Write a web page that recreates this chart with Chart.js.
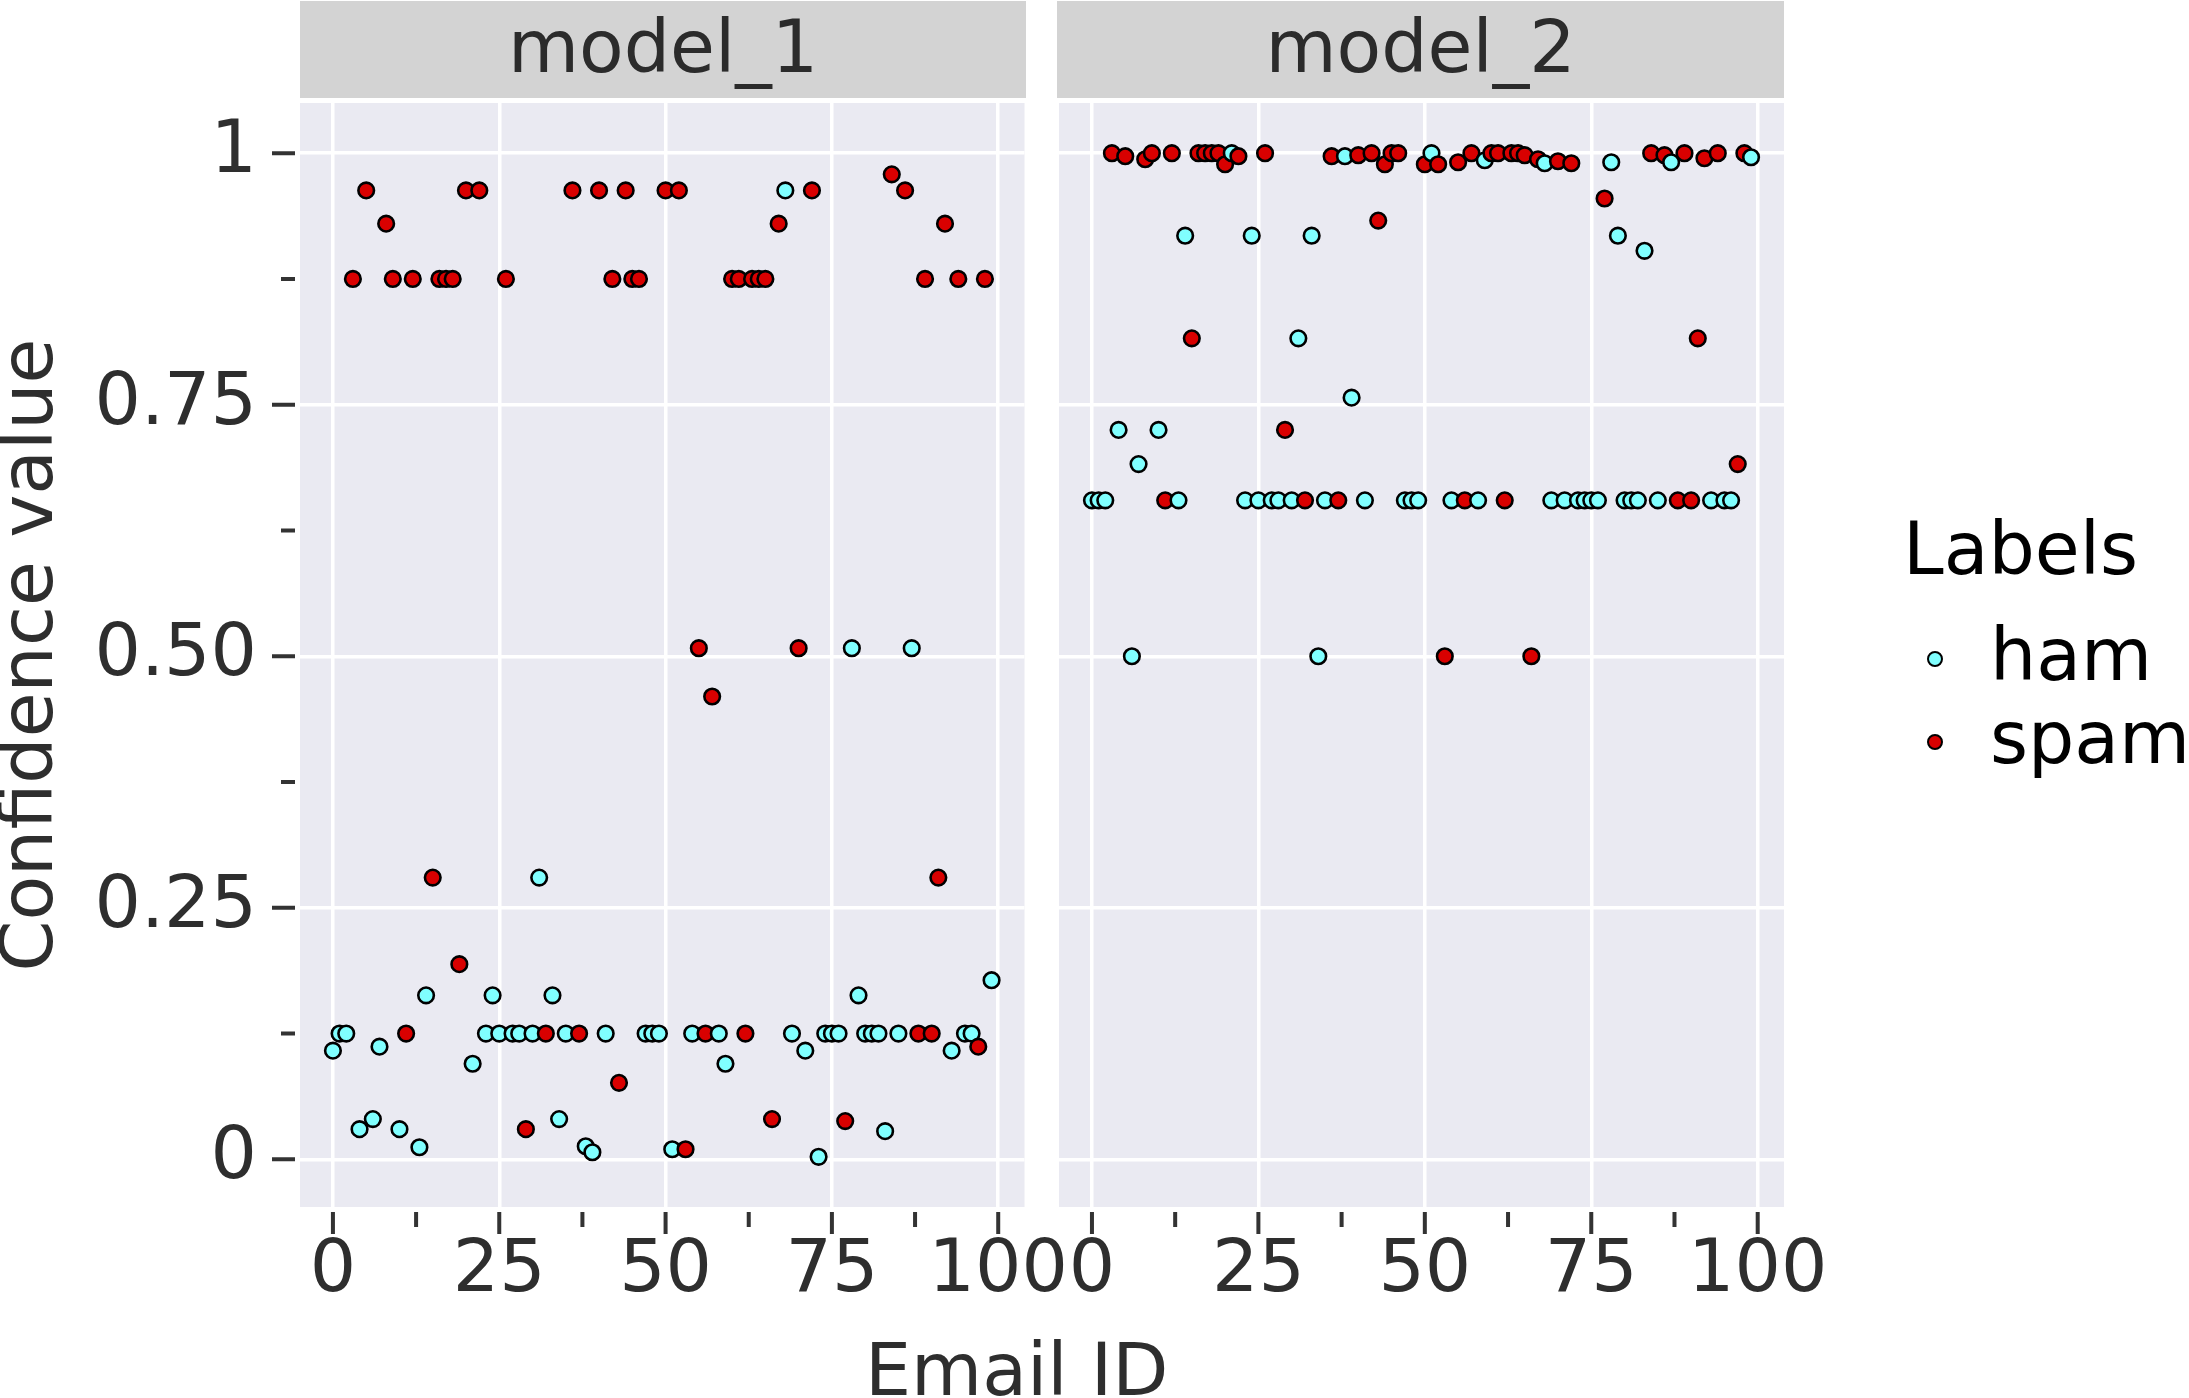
<!DOCTYPE html>
<html lang="en">

<head>
  <meta charset="UTF-8" />
  <title>Confidence value per email</title>
  <script src="https://cdn.jsdelivr.net/npm/chart.js"></script>
  <style>
    body {
      margin: 0;
      width: 2189px;
      height: 1398px;
      background: #ffffff;
      overflow: hidden;
      position: relative;
      font-family: 'DejaVu Sans', sans-serif;
    }

    canvas {
      position: absolute;
      top: 0;
    }

    .strip {
      position: absolute;
      top: 1px;
      height: 97px;
      background: #d3d3d3;
      color: #2b2b2b;
      font-size: 73px;
      text-align: center;
    }

    .strip span {
      display: block;
      line-height: 73px;
      padding-top: 9px;
    }

    .txt {
      position: absolute;
      font-size: 73px;
      line-height: 73px;
      white-space: nowrap;
    }

    .dot {
      position: absolute;
      width: 12px;
      height: 12px;
      border: 2.5px solid #000;
      border-radius: 50%;
    }
  </style>
</head>

<body>
  <canvas id="painel1" width="1100" height="1398" style="left:0px"></canvas>
  <canvas id="painel2" width="860" height="1398" style="left:1040px"></canvas>

  <div class="strip" style="left:300px; width:726px"><span id="strip1"></span></div>
  <div class="strip" style="left:1057px; width:727px"><span id="strip2"></span></div>

  <div class="txt" style="left:865px; top:1333px; color:#2e2e2e">Email ID</div>

  <div class="txt" style="left:1903px; top:512px; color:#000">Labels</div>
  <div class="dot" style="left:1927px; top:651px; background:#80ffff"></div>
  <div class="txt" style="left:1990px; top:618px; color:#000">ham</div>
  <div class="dot" style="left:1927px; top:734px; background:#d90000"></div>
  <div class="txt" style="left:1990px; top:701px; color:#000">spam</div>

  <script>
    // dados (um ponto por email, por modelo)
    const emailIds = [0, 1, 2, 3, 4, 5, 6, 7, 8, 9,
      10, 11, 12, 13, 14, 15, 16, 17, 18, 19,
      20, 21, 22, 23, 24, 25, 26, 27, 28, 29,
      30, 31, 32, 33, 34, 35, 36, 37, 38, 39,
      40, 41, 42, 43, 44, 45, 46, 47, 48, 49,
      50, 51, 52, 53, 54, 55, 56, 57, 58, 59,
      60, 61, 62, 63, 64, 65, 66, 67, 68, 69,
      70, 71, 72, 73, 74, 75, 76, 77, 78, 79,
      80, 81, 82, 83, 84, 85, 86, 87, 88, 89,
      90, 91, 92, 93, 94, 95, 96, 97, 98, 99];

    const emailLabels = ['ham', 'ham', 'ham', 'spam', 'ham', 'spam', 'ham', 'ham', 'spam', 'spam',
      'ham', 'spam', 'spam', 'ham', 'ham', 'spam', 'spam', 'spam', 'spam', 'spam',
      'spam', 'ham', 'spam', 'ham', 'ham', 'ham', 'spam', 'ham', 'ham', 'spam',
      'ham', 'ham', 'spam', 'ham', 'ham', 'ham', 'spam', 'spam', 'ham', 'ham',
      'spam', 'ham', 'spam', 'spam', 'spam', 'spam', 'spam', 'ham', 'ham', 'ham',
      'spam', 'ham', 'spam', 'spam', 'ham', 'spam', 'spam', 'spam', 'ham', 'ham',
      'spam', 'spam', 'spam', 'spam', 'spam', 'spam', 'spam', 'spam', 'ham', 'ham',
      'spam', 'ham', 'spam', 'ham', 'ham', 'ham', 'ham', 'spam', 'ham', 'ham',
      'ham', 'ham', 'ham', 'ham', 'spam', 'ham', 'spam', 'ham', 'spam', 'spam',
      'spam', 'spam', 'spam', 'ham', 'spam', 'ham', 'ham', 'spam', 'spam', 'ham'];

    const model1Conf = [0.108, 0.125, 0.125, 0.875, 0.03, 0.963, 0.04, 0.112, 0.93, 0.875,
      0.03, 0.125, 0.875, 0.012, 0.163, 0.28, 0.875, 0.875, 0.875, 0.194,
      0.963, 0.095, 0.963, 0.125, 0.163, 0.125, 0.875, 0.125, 0.125, 0.03,
      0.125, 0.28, 0.125, 0.163, 0.04, 0.125, 0.963, 0.125, 0.013, 0.007,
      0.963, 0.125, 0.875, 0.076, 0.963, 0.875, 0.875, 0.125, 0.125, 0.125,
      0.963, 0.01, 0.963, 0.01, 0.125, 0.508, 0.125, 0.46, 0.125, 0.095,
      0.875, 0.875, 0.125, 0.875, 0.875, 0.875, 0.04, 0.93, 0.963, 0.125,
      0.508, 0.108, 0.963, 0.0025, 0.125, 0.125, 0.125, 0.038, 0.508, 0.163,
      0.125, 0.125, 0.125, 0.028, 0.979, 0.125, 0.963, 0.508, 0.125, 0.875,
      0.125, 0.28, 0.93, 0.108, 0.875, 0.125, 0.125, 0.112, 0.875, 0.178];

    const model2Conf = [0.655, 0.655, 0.655, 1.0, 0.725, 0.997, 0.5, 0.691, 0.994, 1.0,
      0.725, 0.655, 1.0, 0.655, 0.918, 0.816, 1.0, 1.0, 1.0, 1.0,
      0.989, 1.0, 0.997, 0.655, 0.918, 0.655, 1.0, 0.655, 0.655, 0.725,
      0.655, 0.816, 0.655, 0.918, 0.5, 0.655, 0.997, 0.655, 0.997, 0.757,
      0.998, 0.655, 1.0, 0.933, 0.989, 1.0, 1.0, 0.655, 0.655, 0.655,
      0.989, 1.0, 0.989, 0.5, 0.655, 0.991, 0.655, 1.0, 0.655, 0.993,
      1.0, 1.0, 0.655, 1.0, 1.0, 0.998, 0.5, 0.994, 0.99, 0.655,
      0.992, 0.655, 0.99, 0.655, 0.655, 0.655, 0.655, 0.955, 0.991, 0.918,
      0.655, 0.655, 0.655, 0.903, 1.0, 0.655, 0.998, 0.991, 0.655, 1.0,
      0.655, 0.816, 0.995, 0.655, 1.0, 0.655, 0.655, 0.691, 1.0, 0.996];

    const panelNames = ['model_1', 'model_2'];

    const xMajorTicks = [0, 25, 50, 75, 100];
    const xMinorTicks = [12.5, 37.5, 62.5, 87.5];
    const yMajorTicks = [0, 0.25, 0.5, 0.75, 1];
    const yTickLabels = ['0', '0.25', '0.50', '0.75', '1'];
    const yMinorTicks = [0.125, 0.375, 0.625, 0.875];

    const corLabel = { ham: '#80ffff', spam: '#d90000' };
    const corTexto = '#2e2e2e';
    const fonte = 'DejaVu Sans';

    document.getElementById('strip1').textContent = panelNames[0];
    document.getElementById('strip2').textContent = panelNames[1];

    // fundo do painel e tracinhos dos eixos (maiores e menores)
    const painelPlugin = {
      id: 'painel',
      beforeDraw(chart) {
        const a = chart.chartArea;
        const c = chart.ctx;
        c.save();
        c.fillStyle = '#eaeaf2';
        c.fillRect(a.left, a.top, a.right - a.left, a.bottom - a.top);
        c.restore();
      },
      afterDraw(chart, args, opts) {
        const a = chart.chartArea;
        const c = chart.ctx;
        const xs = chart.scales.x;
        const ys = chart.scales.y;
        c.save();
        c.strokeStyle = '#333333';
        c.lineWidth = 4;
        c.beginPath();
        xMajorTicks.forEach(function (v) {
          const px = xs.getPixelForValue(v);
          c.moveTo(px, a.bottom + 5);
          c.lineTo(px, a.bottom + 27);
        });
        xMinorTicks.forEach(function (v) {
          const px = xs.getPixelForValue(v);
          c.moveTo(px, a.bottom + 5);
          c.lineTo(px, a.bottom + 20);
        });
        if (opts.eixoY) {
          yMajorTicks.forEach(function (v) {
            const py = ys.getPixelForValue(v);
            c.moveTo(a.left - 5, py);
            c.lineTo(a.left - 28, py);
          });
          yMinorTicks.forEach(function (v) {
            const py = ys.getPixelForValue(v);
            c.moveTo(a.left - 5, py);
            c.lineTo(a.left - 19, py);
          });
        }
        c.stroke();
        c.restore();
      }
    };

    function montarGrafico(idCanvas, valores, eixoY, padding) {
      const pontos = [];
      for (let i = 0; i < emailIds.length; i++) {
        pontos.push({ x: emailIds[i], y: valores[i] });
      }

      const config = {
        type: 'scatter',
        data: {
          datasets: [{
            label: 'Labels',
            data: pontos,
            pointBackgroundColor: emailLabels.map(l => corLabel[l]),
            pointBorderColor: '#000000',
            pointBorderWidth: 2.6,
            pointRadius: 7.8,
            pointHoverRadius: 7.8
          }]
        },
        options: {
          responsive: false,
          animation: false,
          devicePixelRatio: 1,
          layout: { padding: padding },
          plugins: {
            legend: { display: false },
            tooltip: { enabled: false },
            painel: { eixoY: eixoY }
          },
          scales: {
            x: {
              type: 'linear',
              min: -4.95,
              max: 103.95,
              afterBuildTicks: function (s) {
                s.ticks = xMajorTicks.map(v => ({ value: v }));
              },
              afterFit: function (s) {
                s.height = 191;
                s.paddingLeft = 0;
                s.paddingRight = 0;
              },
              ticks: {
                autoSkip: false,
                maxRotation: 0,
                padding: 21,
                color: corTexto,
                font: { family: fonte, size: 73 },
                callback: v => String(v)
              },
              grid: { color: '#ffffff', lineWidth: 3.5, drawTicks: false },
              border: { display: false }
            },
            y: {
              type: 'linear',
              min: -0.0474,
              max: 1.0499,
              afterBuildTicks: function (s) {
                s.ticks = yMajorTicks.map(v => ({ value: v }));
              },
              afterFit: function (s) {
                s.width = eixoY ? 300 : 0;
                s.paddingTop = 0;
                s.paddingBottom = 0;
              },
              ticks: {
                display: eixoY,
                padding: 43,
                color: corTexto,
                font: { family: fonte, size: 73 },
                callback: v => yTickLabels[yMajorTicks.indexOf(v)]
              },
              title: {
                display: eixoY,
                text: 'Confidence value',
                color: corTexto,
                font: { family: fonte, size: 73, lineHeight: 0.9 },
                padding: { top: 0, bottom: 0 }
              },
              grid: { color: '#ffffff', lineWidth: 3.5, drawTicks: false },
              border: { display: false }
            }
          }
        },
        plugins: [painelPlugin]
      };

      return new Chart(document.getElementById(idCanvas), config);
    }

    montarGrafico('painel1', model1Conf, true, { left: 0, top: 103, right: 75.5, bottom: 0 });
    montarGrafico('painel2', model2Conf, false, { left: 19, top: 103, right: 116, bottom: 0 });
  </script>
</body>

</html>
